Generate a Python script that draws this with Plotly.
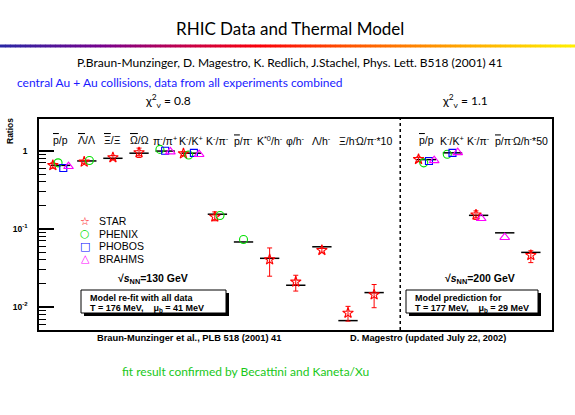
import plotly.graph_objects as go

# ---------------- data ----------------
left_labels = ["p̄/p", "Λ̄/Λ", "Ξ̄/Ξ", "Ω̄/Ω", "π-/π+", "K-/K+", "K-/π-", "p̄/π-",
               "K*0/h-", "φ/h-", "Λ/h-", "Ξ/h-", "Ω/π-*10"]
right_labels = ["p̄/p", "K-/K+", "K-/π-", "p̄/π-", "Ω/h-*50"]

# thermal model values (130 GeV fit, 200 GeV prediction)
model = [0.65, 0.74, 0.80, 0.93, 0.99, 0.93, 0.154, 0.068, 0.042, 0.019, 0.059, 0.0067, 0.0153,
         0.77, 0.94, 0.149, 0.089, 0.050]

star = [0.65, 0.72, 0.82, 0.95, None, 0.92, 0.143, None, 0.0405, 0.021, 0.0533, 0.0084, 0.0144,
        0.78, None, 0.152, None, 0.046]
star_err_up = [0.05, 0.03, 0.05, 0.13, None, 0.05, 0.022, None, 0.0165, 0.0045, 0.003, 0.0018, 0.005,
               0.05, None, 0.018, None, 0.0065]
star_err_dn = [0.05, 0.03, 0.05, 0.13, None, 0.05, 0.016, None, 0.0157, 0.005, 0.003, 0.0018, 0.0046,
               0.05, None, 0.02, None, 0.009]
phenix = [0.70, 0.75, None, None, 1.04, 0.88, 0.148, 0.073, None, None, None, None, None,
          0.70, 0.90, None, None, None]
phobos = [0.60, None, None, None, 1.00, 0.94, None, None, None, None, None, None, None,
          0.74, 0.94, None, None, None]
brahms = [0.63, None, None, None, 0.97, 0.90, None, None, None, None, None, None, None,
          0.75, 0.95, 0.136, 0.078, None]

# ---------------- layout helpers ----------------
W, H = 575, 415
PL, PR, PT, PB = 39, 552, 119, 330


def fx(px):
    return (px - PL) / (PR - PL)


def fy(py):
    return (PB - py) / (PB - PT)


cat_x = list(range(1, 14)) + list(range(15, 20))
half = 0.37
spacing = 0.2

series = [
    ("STAR", star, "red", "star-open", 8),
    ("PHENIX", phenix, "#00e000", "circle-open", 8),
    ("PHOBOS", phobos, "blue", "square-open", 7),
    ("BRAHMS", brahms, "magenta", "triangle-up-open", 8.5),
]

# offsets: spread the experiments present at each category
offsets = {name: [] for name, *_ in series}
for i in range(len(cat_x)):
    present = [name for name, vals, *_ in series if vals[i] is not None]
    n = len(present)
    for name, vals, *_ in series:
        if vals[i] is None:
            offsets[name].append(0)
        else:
            k = present.index(name)
            offsets[name].append((k - (n - 1) / 2) * spacing)

fig = go.Figure()

# model lines
mx, my = [], []
for xc, m in zip(cat_x, model):
    mx += [xc - half, xc + half, None]
    my += [m, m, None]
fig.add_trace(go.Scatter(x=mx, y=my, mode="lines", line=dict(color="black", width=1.5),
                         showlegend=False, hoverinfo="skip"))

for name, vals, col, sym, sz in series:
    xs = [xc + o for xc, o in zip(cat_x, offsets[name])]
    kw = {}
    if name == "STAR":
        kw["error_y"] = dict(type="data", symmetric=False,
                             array=[e if e is not None else 0 for e in star_err_up],
                             arrayminus=[e if e is not None else 0 for e in star_err_dn],
                             color="red", thickness=1, width=2.5)
    fig.add_trace(go.Scatter(x=xs, y=vals, mode="markers", name=name,
                             marker=dict(symbol=sym, size=sz, color=col, line=dict(color=col, width=1.1)),
                             showlegend=False, **kw))

ann = []
shapes = []


def note(x, y, text, font, xanchor="center", xref="paper", **kw):
    ann.append(dict(x=x, y=y, xref=xref, yref="paper", text=text, showarrow=False,
                    font=font, xanchor=xanchor, yanchor="middle", **kw))


def OL(s):
    return '<span style="text-decoration:overline">' + s + '</span>'


def fmt(lbl):
    s = lbl
    for a, b in [("p̄", OL("p")), ("Λ̄", OL("Λ")), ("Ξ̄", OL("Ξ")), ("Ω̄", OL("Ω"))]:
        s = s.replace(a, b)
    s = s.replace("K*0", "K<sup>*0</sup>")
    s = s.replace("π-", "π<sup>-</sup>").replace("π+", "π<sup>+</sup>")
    s = s.replace("K-", "K<sup>-</sup>").replace("K+", "K<sup>+</sup>").replace("h-", "h<sup>-</sup>")
    return s


lab_font = dict(family="Liberation Sans", size=10.5, color="black")
for xc, lbl in zip(cat_x, left_labels + right_labels):
    note(xc, fy(140), fmt(lbl), lab_font, xref="x")

tex = "Lato"
# header
note(fx(290), fy(28), "RHIC Data and Thermal Model", dict(family=tex, size=17, color="black"))
note(fx(290), fy(63), "P.Braun-Munzinger, D. Magestro, K. Redlich, J.Stachel, Phys. Lett. B518 (2001) 41",
     dict(family=tex, size=12, color="black"))
note(fx(15), fy(82), "central Au + Au collisions, data from all experiments combined",
     dict(family=tex, size=12, color="#1a1aff"), xanchor="left")
note(fx(168), fy(101), "χ<sup>2</sup><sub>ν</sub> = 0.8", dict(family=tex, size=12, color="black"))
note(fx(465), fy(101), "χ<sup>2</sup><sub>ν</sub> = 1.1", dict(family=tex, size=12, color="black"))
note(fx(245), fy(371), "fit result confirmed by Becattini and Kaneta/Xu",
     dict(family=tex, size=12, color="#19c819"))

note(fx(189), fy(338), "<b>Braun-Munzinger et al., PLB 518 (2001) 41</b>",
     dict(family="Liberation Sans", size=9.3, color="black"))
note(fx(428), fy(338), "<b>D. Magestro (updated July 22, 2002)</b>",
     dict(family="Liberation Sans", size=9.2, color="black"))
note(fx(10), fy(131), "<b>Ratios</b>", dict(family="Liberation Sans", size=8.5, color="black"), textangle=-90)

# sqrt(s) texts
sfont = dict(family="Liberation Sans", size=10.5, color="black")
note(fx(153), fy(279), "<b>√<i>s</i><sub>NN</sub>=130 GeV</b>", sfont)
note(fx(480), fy(279), "<b>√<i>s</i><sub>NN</sub>=200 GeV</b>", sfont)

# boxes with shadow
boxfont = dict(family="Liberation Sans", size=9, color="black")
for (x0, x1, lines) in [(81, 226, ["Model re-fit with all data", "T = 176 MeV,    μ<sub>b</sub> = 41 MeV"]),
                        (406, 538, ["Model prediction for", "T = 177 MeV,    μ<sub>b</sub> = 29 MeV"])]:
    y0, y1 = 290, 313
    shapes.append(dict(type="rect", xref="paper", yref="paper", x0=fx(x0 + 3), x1=fx(x1 + 3),
                       y0=fy(y1 + 3), y1=fy(y0 + 3), fillcolor="black", line=dict(width=0)))
    shapes.append(dict(type="rect", xref="paper", yref="paper", x0=fx(x0), x1=fx(x1),
                       y0=fy(y1), y1=fy(y0), fillcolor="white", line=dict(color="black", width=1)))
    for j, t in enumerate(lines):
        note(fx(x0 + 7), fy(297.5 + j * 11), "<b>" + t + "</b>", boxfont, xanchor="left")

# legend (manual)
leg = [("☆", "red", "STAR"), ("○", "#00e000", "PHENIX"), ("□", "blue", "PHOBOS"), ("△", "magenta", "BRAHMS")]
for j, (g, c, n) in enumerate(leg):
    yy = 221 + j * 12.6
    note(fx(85), fy(yy), g, dict(family="DejaVu Sans", size=11, color=c))
    note(fx(97), fy(yy), n, dict(family="Liberation Sans", size=10.5, color="black"), xanchor="left")

# dashed separator
shapes.append(dict(type="line", xref="x", yref="paper", x0=14, x1=14, y0=0, y1=1,
                   line=dict(color="black", width=1.5, dash="3px,3px")))

# gradient line under title
stops = [(0.0, (40, 40, 165)), (0.18, (120, 0, 140)), (0.33, (200, 0, 70)), (0.45, (250, 0, 10)),
         (0.6, (255, 80, 0)), (0.8, (255, 165, 0)), (1.0, (255, 240, 0))]


def grad(t):
    for (a, ca), (b, cb) in zip(stops[:-1], stops[1:]):
        if a <= t <= b:
            u = (t - a) / (b - a)
            return "rgb(%d,%d,%d)" % tuple(round(ca[k] + u * (cb[k] - ca[k])) for k in range(3))
    return "rgb(255,240,0)"


N = 115
for i in range(N):
    xa = i * W / N
    xb = (i + 1) * W / N + 0.5
    shapes.append(dict(type="rect", xref="paper", yref="paper", x0=fx(xa), x1=fx(xb),
                       y0=fy(47.5), y1=fy(44.5), fillcolor=grad((i + 0.5) / N), line=dict(width=0),
                       layer="above"))

minor_vals = [m * 10 ** e for e in (-3, -2, -1) for m in range(2, 10)]

fig.update_layout(
    width=W, height=H, autosize=False,
    margin=dict(l=PL, r=W - PR, t=PT, b=H - PB, pad=0),
    paper_bgcolor="white", plot_bgcolor="white",
    showlegend=False,
    xaxis=dict(range=[0.17, 19.81], showgrid=False, zeroline=False, showticklabels=False,
               ticks="", showline=True, linecolor="black", linewidth=1.5, mirror=True),
    yaxis=dict(type="log", range=[-2.294, 0.406], showgrid=False, zeroline=False,
               tickvals=[0.01, 0.1, 1], ticktext=["<b>10<sup>-2</sup></b>", "<b>10<sup>-1</sup></b>", "<b>1</b>"],
               ticks="inside", ticklen=15, tickwidth=1.5, tickcolor="black",
               minor=dict(tickvals=minor_vals, ticks="inside", ticklen=7, tickwidth=1, tickcolor="black"),
               showline=True, linecolor="black", linewidth=1.5, mirror=True,
               tickfont=dict(family="Liberation Sans", size=8.5, color="black"),
               ticklabelstandoff=8),
    annotations=ann,
    shapes=shapes,
)

fig.write_html("out.html", config={"displayModeBar": False},
               post_script="document.body.style.margin='0';document.body.style.overflow='hidden';")
